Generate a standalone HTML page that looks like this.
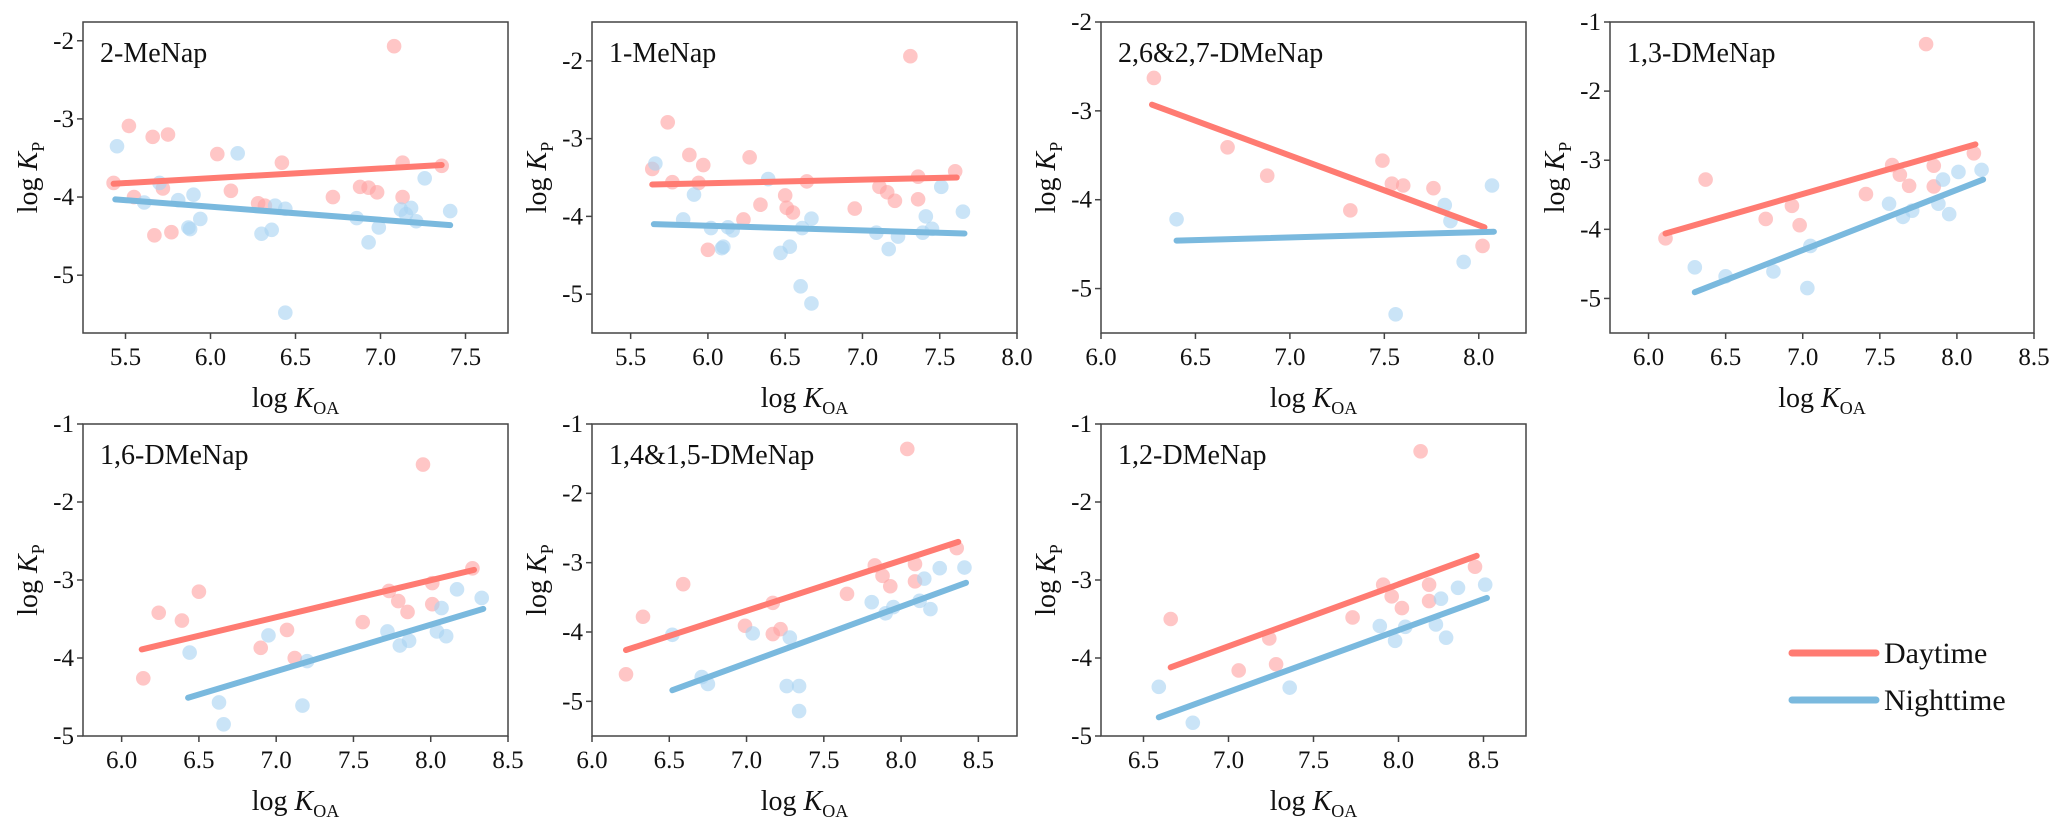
<!DOCTYPE html>
<html><head><meta charset="utf-8">
<style>
html,body{margin:0;padding:0;background:#fff;}
svg{display:block;font-family:"Liberation Serif",serif;}
</style></head>
<body>
<svg id="fig" width="2067" height="829" viewBox="0 0 2067 829" xmlns="http://www.w3.org/2000/svg"></svg>
<script>
// ---- data ----
const p1Name = "2-MeNap";
const p1DayX = [5.43,5.52,5.55,5.66,5.72,5.75,5.67,5.77,6.04,6.12,6.28,6.32,6.42,6.72,6.88,6.93,6.98,7.08,7.13,7.13,7.36];
const p1DayY = [-3.82,-3.09,-4.00,-3.23,-3.89,-3.20,-4.49,-4.45,-3.45,-3.92,-4.08,-4.11,-3.56,-4.00,-3.87,-3.88,-3.94,-2.07,-3.56,-4.00,-3.60];
const p1NightX = [5.45,5.61,5.70,5.81,5.87,5.88,5.90,5.94,6.16,6.30,6.36,6.38,6.44,6.44,6.86,6.93,6.99,7.12,7.15,7.18,7.21,7.26,7.41];
const p1NightY = [-3.35,-4.07,-3.82,-4.04,-4.39,-4.41,-3.97,-4.28,-3.44,-4.47,-4.42,-4.11,-4.15,-5.48,-4.27,-4.58,-4.39,-4.16,-4.22,-4.14,-4.31,-3.76,-4.18];
const p1DayFit = [5.43,-3.83,7.36,-3.59];
const p1NightFit = [5.44,-4.03,7.41,-4.36];

const p2Name = "1-MeNap";
const p2DayX = [5.64,5.74,5.77,5.88,5.94,5.97,6.00,6.23,6.27,6.34,6.50,6.51,6.55,6.64,6.95,7.11,7.16,7.21,7.31,7.36,7.36,7.60];
const p2DayY = [-3.39,-2.79,-3.56,-3.21,-3.57,-3.34,-4.43,-4.04,-3.24,-3.85,-3.73,-3.89,-3.95,-3.55,-3.90,-3.62,-3.69,-3.80,-1.94,-3.49,-3.78,-3.42];
const p2NightX = [5.66,5.84,5.91,6.02,6.09,6.10,6.13,6.16,6.39,6.47,6.53,6.60,6.61,6.67,6.67,7.09,7.17,7.23,7.39,7.41,7.45,7.51,7.65];
const p2NightY = [-3.32,-4.04,-3.72,-4.15,-4.41,-4.39,-4.14,-4.18,-3.52,-4.47,-4.39,-4.90,-4.15,-4.03,-5.12,-4.21,-4.42,-4.26,-4.21,-4.00,-4.16,-3.62,-3.94];
const p2DayFit = [5.64,-3.59,7.61,-3.50];
const p2NightFit = [5.65,-4.10,7.66,-4.22];

const p3Name = "2,6&2,7-DMeNap";
const p3DayX = [6.28,6.67,6.88,7.32,7.49,7.54,7.60,7.76,8.02];
const p3DayY = [-2.63,-3.41,-3.73,-4.12,-3.56,-3.82,-3.84,-3.87,-4.52];
const p3NightX = [6.40,7.56,7.82,7.85,7.92,8.07];
const p3NightY = [-4.22,-5.29,-4.06,-4.24,-4.70,-3.84];
const p3DayFit = [6.27,-2.93,8.03,-4.31];
const p3NightFit = [6.40,-4.46,8.08,-4.36];

const p4Name = "1,3-DMeNap";
const p4DayX = [6.11,6.37,6.76,6.93,6.98,7.41,7.58,7.63,7.69,7.80,7.85,7.85,8.11];
const p4DayY = [-4.13,-3.28,-3.85,-3.66,-3.94,-3.49,-3.07,-3.21,-3.37,-1.32,-3.08,-3.38,-2.90];
const p4NightX = [6.30,6.50,6.81,7.03,7.05,7.56,7.65,7.71,7.88,7.91,7.95,8.01,8.16];
const p4NightY = [-4.55,-4.68,-4.61,-4.85,-4.24,-3.63,-3.82,-3.73,-3.63,-3.28,-3.78,-3.17,-3.14];
const p4DayFit = [6.11,-4.06,8.12,-2.77];
const p4NightFit = [6.30,-4.91,8.17,-3.28];

const p5Name = "1,6-DMeNap";
const p5DayX = [6.14,6.24,6.39,6.50,6.90,7.07,7.12,7.56,7.73,7.79,7.85,7.95,8.01,8.01,8.27];
const p5DayY = [-4.26,-3.42,-3.52,-3.15,-3.87,-3.64,-4.00,-3.54,-3.14,-3.27,-3.41,-1.52,-3.04,-3.31,-2.85];
const p5NightX = [6.44,6.63,6.66,6.95,7.17,7.20,7.72,7.80,7.86,8.04,8.07,8.10,8.17,8.33];
const p5NightY = [-3.93,-4.57,-4.85,-3.71,-4.61,-4.04,-3.66,-3.84,-3.78,-3.66,-3.36,-3.72,-3.12,-3.23];
const p5DayFit = [6.13,-3.89,8.28,-2.87];
const p5NightFit = [6.43,-4.51,8.34,-3.37];

const p6Name = "1,4&1,5-DMeNap";
const p6DayX = [6.22,6.33,6.59,6.99,7.17,7.17,7.22,7.65,7.83,7.88,7.93,8.04,8.09,8.09,8.36];
const p6DayY = [-4.61,-3.78,-3.31,-3.91,-4.03,-3.58,-3.96,-3.45,-3.04,-3.19,-3.34,-1.36,-3.02,-3.27,-2.79];
const p6NightX = [6.52,6.71,6.75,7.04,7.26,7.28,7.34,7.34,7.81,7.90,7.95,8.12,8.15,8.19,8.25,8.41];
const p6NightY = [-4.04,-4.65,-4.75,-4.02,-4.78,-4.08,-4.78,-5.14,-3.57,-3.73,-3.64,-3.55,-3.23,-3.67,-3.08,-3.07];
const p6DayFit = [6.22,-4.26,8.37,-2.70];
const p6NightFit = [6.52,-4.84,8.42,-3.29];

const p7Name = "1,2-DMeNap";
const p7DayX = [6.66,7.06,7.24,7.28,7.73,7.91,7.96,8.02,8.13,8.18,8.18,8.45];
const p7DayY = [-3.50,-4.16,-3.75,-4.08,-3.48,-3.06,-3.21,-3.36,-1.35,-3.06,-3.27,-2.83];
const p7NightX = [6.59,6.79,7.36,7.89,7.98,8.04,8.22,8.25,8.28,8.35,8.51];
const p7NightY = [-4.37,-4.83,-4.38,-3.59,-3.78,-3.60,-3.57,-3.24,-3.74,-3.10,-3.06];
const p7DayFit = [6.66,-4.12,8.46,-2.69];
const p7NightFit = [6.59,-4.76,8.52,-3.23];

const p1XTicks = ["5.5","6.0","6.5","7.0","7.5"];
const p1YTicks = ["-2","-3","-4","-5"];
const p2XTicks = ["5.5","6.0","6.5","7.0","7.5","8.0"];
const p2YTicks = ["-2","-3","-4","-5"];
const p3XTicks = ["6.0","6.5","7.0","7.5","8.0"];
const p3YTicks = ["-2","-3","-4","-5"];
const p4XTicks = ["6.0","6.5","7.0","7.5","8.0","8.5"];
const p4YTicks = ["-1","-2","-3","-4","-5"];
const p5XTicks = ["6.0","6.5","7.0","7.5","8.0","8.5"];
const p5YTicks = ["-1","-2","-3","-4","-5"];
const p6XTicks = ["6.0","6.5","7.0","7.5","8.0","8.5"];
const p6YTicks = ["-1","-2","-3","-4","-5"];
const p7XTicks = ["6.5","7.0","7.5","8.0","8.5"];
const p7YTicks = ["-1","-2","-3","-4","-5"];

const legendLabels = ["Daytime","Nighttime"];

// ---- layout ----
const panels = [
 {name:p1Name, box:[83,22,425,311], xd:[5.25,7.75], yd:[-5.74,-1.76], xt:p1XTicks, yt:p1YTicks, dx:p1DayX, dy:p1DayY, nx:p1NightX, ny:p1NightY, df:p1DayFit, nf:p1NightFit},
 {name:p2Name, box:[592,22,425,311], xd:[5.25,8.0], yd:[-5.5,-1.5], xt:p2XTicks, yt:p2YTicks, dx:p2DayX, dy:p2DayY, nx:p2NightX, ny:p2NightY, df:p2DayFit, nf:p2NightFit},
 {name:p3Name, box:[1101,22,425,311], xd:[6.0,8.25], yd:[-5.5,-2], xt:p3XTicks, yt:p3YTicks, dx:p3DayX, dy:p3DayY, nx:p3NightX, ny:p3NightY, df:p3DayFit, nf:p3NightFit},
 {name:p4Name, box:[1610,22,424,311], xd:[5.75,8.5], yd:[-5.5,-1], xt:p4XTicks, yt:p4YTicks, dx:p4DayX, dy:p4DayY, nx:p4NightX, ny:p4NightY, df:p4DayFit, nf:p4NightFit},
 {name:p5Name, box:[83,424,425,312], xd:[5.75,8.5], yd:[-5,-1], xt:p5XTicks, yt:p5YTicks, dx:p5DayX, dy:p5DayY, nx:p5NightX, ny:p5NightY, df:p5DayFit, nf:p5NightFit},
 {name:p6Name, box:[592,424,425,312], xd:[6.0,8.75], yd:[-5.5,-1], xt:p6XTicks, yt:p6YTicks, dx:p6DayX, dy:p6DayY, nx:p6NightX, ny:p6NightY, df:p6DayFit, nf:p6NightFit},
 {name:p7Name, box:[1101,424,425,312], xd:[6.25,8.75], yd:[-5,-1], xt:p7XTicks, yt:p7YTicks, dx:p7DayX, dy:p7DayY, nx:p7NightX, ny:p7NightY, df:p7DayFit, nf:p7NightFit}
];
const NS = "http://www.w3.org/2000/svg";
const svg = document.getElementById('fig');
function mk(tag, attrs, parent){
  const e = document.createElementNS(NS, tag);
  for (const k in attrs) e.setAttribute(k, attrs[k]);
  (parent||svg).appendChild(e);
  return e;
}
const DAYP="#ffa3a3", NIGHTP="#a9d4f2", DAYL="#ff7b72", NIGHTL="#7ab9de";

panels.forEach((p, i) => {
  const [bx,by,bw,bh] = p.box;
  const sx = v => bx + (v - p.xd[0])/(p.xd[1]-p.xd[0])*bw;
  const sy = v => by + bh - (v - p.yd[0])/(p.yd[1]-p.yd[0])*bh;
  const g = mk('g', {});
  
  

  const pts = mk('g', {}, g);
  
  
  p.dx.forEach((x, j) => {
    const c = mk('circle', {cx:sx(x), cy:sy(p.dy[j]), r:7.3, fill:DAYP, 'fill-opacity':0.62}, pts);
    
    
  });
  const npts = mk('g', {}, g);
  
  
  p.nx.forEach((x, j) => {
    const c = mk('circle', {cx:sx(x), cy:sy(p.ny[j]), r:7.3, fill:NIGHTP, 'fill-opacity':0.62}, npts);
    
    
  });
  const dl = mk('line', {x1:sx(p.df[0]), y1:sy(p.df[1]), x2:sx(p.df[2]), y2:sy(p.df[3]), stroke:DAYL, 'stroke-width':6, 'stroke-linecap':'round'}, g);
  
  
  const nl = mk('line', {x1:sx(p.nf[0]), y1:sy(p.nf[1]), x2:sx(p.nf[2]), y2:sy(p.nf[3]), stroke:NIGHTL, 'stroke-width':6, 'stroke-linecap':'round'}, g);
  
  

  const fr = mk('rect', {x:bx, y:by, width:bw, height:bh, fill:'none', stroke:'#444', 'stroke-width':1.5}, g);
  
  

  p.xt.forEach(t => {
    const x = sx(parseFloat(t));
    mk('line', {x1:x, y1:by+bh, x2:x, y2:by+bh+6, stroke:'#444', 'stroke-width':1.5}, g);
    const tx = mk('text', {x:x, y:by+bh+32, 'font-size':25, 'text-anchor':'middle', fill:'#111'}, g);
    tx.textContent = t;
    
    
  });
  p.yt.forEach(t => {
    const y = sy(parseFloat(t));
    mk('line', {x1:bx-6, y1:y, x2:bx, y2:y, stroke:'#444', 'stroke-width':1.5}, g);
    const ty = mk('text', {x:bx-9, y:y+8, 'font-size':25, 'text-anchor':'end', fill:'#111'}, g);
    ty.textContent = t;
    
    
  });

  const tt = mk('text', {x:bx+17, y:by+40, 'font-size':28, fill:'#111'}, g);
  tt.textContent = p.name;
  
  

  const xt = mk('text', {x:bx+bw/2, y:by+bh+74, 'font-size':28, 'text-anchor':'middle', fill:'#111'}, g);
  xt.innerHTML = 'log <tspan font-style="italic">K</tspan><tspan font-size="18" dy="7">OA</tspan>';
  
  
  const cy = by + bh/2;
  const yt = mk('text', {x:bx-46, y:cy, 'font-size':28, 'text-anchor':'middle', fill:'#111', transform:'rotate(-90 '+(bx-46)+' '+cy+')'}, g);
  yt.innerHTML = 'log <tspan font-style="italic">K</tspan><tspan font-size="18" dy="7">P</tspan>';
  
  
});

const lg = mk('g', {});


[DAYL, NIGHTL].forEach((col, k) => {
  const y = 653 + k*47;
  const l = mk('line', {x1:1792, y1:y, x2:1876, y2:y, stroke:col, 'stroke-width':7, 'stroke-linecap':'round'}, lg);
  
  
  const t = mk('text', {x:1884, y:y+10, 'font-size':30, fill:'#111'}, lg);
  t.textContent = legendLabels[k];
  
  
});
</script>
</body></html>
